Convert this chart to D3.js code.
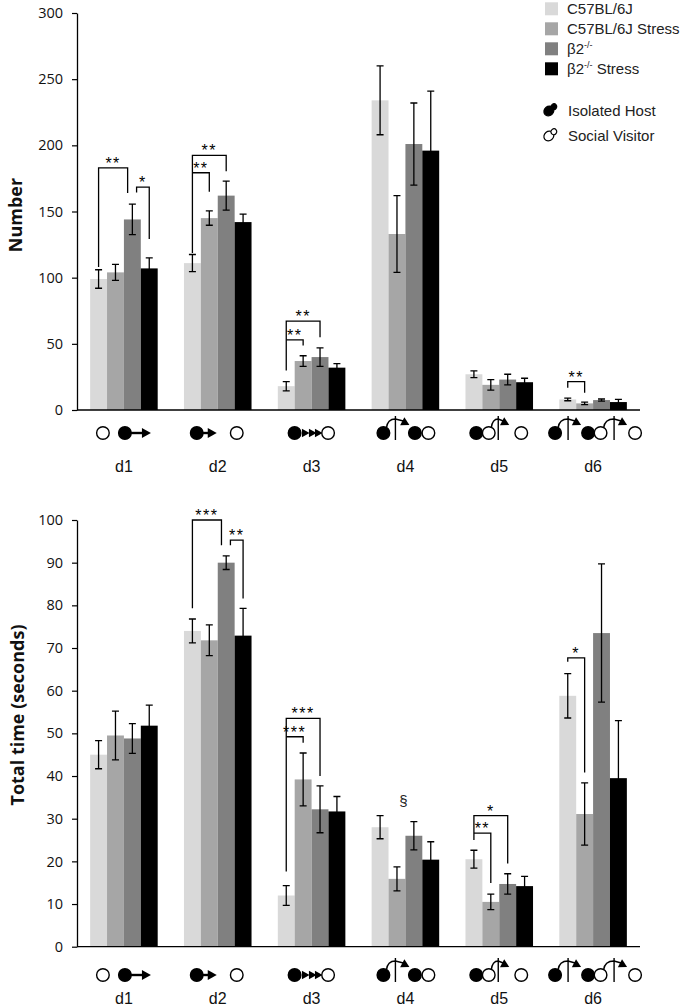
<!DOCTYPE html>
<html><head><meta charset="utf-8">
<script src="https://cdn.jsdelivr.net/npm/d3@7"></script>
<style>body{margin:0;background:#fff} svg{display:block}</style>
</head><body>
<svg id="c" width="680" height="1008"></svg>
<script>
// ---------- data ----------
const groups = ["d1","d2","d3","d4","d5","d6"];
const series = ["C57BL/6J","C57BL/6J Stress","β2-/-","β2-/- Stress"];
const colors = ["#d9d9d9","#a6a6a6","#808080","#000000"];

const countTicks = [0,50,100,150,200,250,300];
const countC57     = [99, 111, 18, 234, 27, 8];
const countC57Err  = [7, 6.5, 3.5, 26, 2.5, 1];
const countC57S    = [104, 145, 37, 133, 19, 5];
const countC57SErr = [6, 5.4, 4, 29, 4, 1];
const countB2      = [144, 162, 40, 201, 23, 7.5];
const countB2Err   = [11.5, 11, 7, 31, 4, 0.8];
const countB2S     = [107, 142, 32, 196, 21, 6];
const countB2SErr  = [8, 6, 3, 45, 3, 2];

const timeTicks = [0,10,20,30,40,50,60,70,80,90,100];
const timeC57     = [45, 74, 12, 28, 20.5, 58.8];
const timeC57Err  = [3.3, 2.8, 2.3, 2.7, 2.1, 5.2];
const timeC57S    = [49.5, 71.8, 39.2, 15.9, 10.5, 31.1];
const timeC57SErr = [5.7, 3.6, 6.2, 2.8, 1.8, 7.3];
const timeB2      = [48.8, 90, 32.2, 26, 14.7, 73.5];
const timeB2Err   = [3.5, 1.6, 5.5, 3.3, 2.4, 16.2];
const timeB2S     = [51.8, 72.9, 31.7, 20.4, 14.2, 39.5];
const timeB2SErr  = [4.8, 6.4, 3.5, 4.2, 2.3, 13.5];

// significance brackets: [group, fromSeries, toSeries, top, leftEnd, rightEnd, label]
const countSig = [
  ["d1",0,2,183,108,164,"**"],
  ["d1",2,3,168.4,164.4,129.3,"*"],
  ["d2",0,2,192.4,118.7,180.5,"**"],
  ["d2",0,1,179.3,179.3,164.9,"**"],
  ["d3",0,2,67.2,29.8,55,"**"],
  ["d3",0,1,53,53,48.7,"**"],
  ["d6",0,1,21.4,16.9,13.1,"**"]
];
const timeSig = [
  ["d2",0,2,100,79.3,94.1,"***"],
  ["d2",2,3,95.3,94.1,81.6,"**"],
  ["d3",0,2,53.5,17.6,40,"***"],
  ["d3",0,1,49.2,49.2,47.8,"***"],
  ["d5",0,2,30.7,25,19.5,"*"],
  ["d5",0,1,26.6,26.6,14.9,"**"],
  ["d6",0,1,67.7,66.8,40.8,"*"]
];
const timeNotes = [["d4", 33, "§"]];

// ---------- drawing ----------
const svg = d3.select("#c");
const x = d3.scaleBand().domain(groups).range([77,640]).paddingInner(0.28).paddingOuter(0.14);
const xs = d3.scaleBand().domain(series).range([0, x.bandwidth()]);
const bw = xs.bandwidth();
const barC = (g, si) => x(g) + xs(series[si]) + bw/2;
const tickFont = "'Open Sans', sans-serif";
const arial = "'Liberation Sans', Arial, sans-serif";

function panel(cfg){
  const y = d3.scaleLinear().domain([0, cfg.max]).range([cfg.y0, cfg.y1]);
  const g = svg.append("g");
  cfg.means.forEach((arr, si) => {
    const rows = arr.map((v,i)=>({g:groups[i], v, e:cfg.errs[si][i]}));
    g.append("g").selectAll("rect").data(rows).join("rect")
      .attr("x", d=>x(d.g)+xs(series[si])).attr("width", bw)
      .attr("y", d=>y(d.v)).attr("height", d=>y(0)-y(d.v))
      .attr("fill", colors[si]);
    const eb = g.append("g").attr("stroke","#000").attr("stroke-width",1.3).attr("fill","none");
    eb.selectAll("path").data(rows).join("path")
      .attr("d", d=>{
        const cx = barC(d.g, si), t = y(d.v+d.e), b = y(d.v-d.e);
        return `M${cx},${t}V${b}M${cx-3.5},${t}H${cx+3.5}M${cx-3.5},${b}H${cx+3.5}`;
      });
  });
  // y axis
  const ax = g.append("g").attr("transform","translate(77,0)")
    .call(d3.axisLeft(y).tickValues(cfg.ticks).tickSize(5).tickSizeOuter(0).tickPadding(9));
  ax.select(".domain").attr("stroke","#000").attr("stroke-width",1.3);
  ax.selectAll(".tick line").attr("stroke","#000").attr("stroke-width",1.2);
  ax.selectAll(".tick text").attr("font-family",tickFont).attr("font-size",14.5).attr("fill","#111");
  // x axis baseline
  g.append("line").attr("x1",77).attr("x2",640).attr("y1",y(0)).attr("y2",y(0))
    .attr("stroke","#000").attr("stroke-width",1.3);
  // y label
  g.append("text").attr("transform",`translate(${cfg.labelX},${cfg.labelY}) rotate(-90)`)
    .attr("text-anchor","middle").attr("font-family",tickFont).attr("font-weight","bold")
    .attr("font-size",18).attr("fill","#111").text(cfg.label);
  // brackets
  const br = g.append("g");
  cfg.sig.forEach(([grp,a,b,top,le,re,lab]) => {
    let xa = barC(grp,a), xb = barC(grp,b);
    const shared = cfg.sig.filter(s=>s[0]===grp);
    if (shared.some(s=>s[1]===b && s[2]>b)) xb -= bw*0.28;
    if (shared.some(s=>s[2]===a && s[1]<a)) xa += bw*0.25;
    br.append("path").attr("d",`M${xa},${y(le)}V${y(top)}H${xb}V${y(re)}`)
      .attr("fill","none").attr("stroke","#000").attr("stroke-width",1.3);
    br.append("text").attr("x",(xa+xb)/2).attr("y",y(top)+1).attr("text-anchor","middle")
      .attr("font-family",arial).attr("font-size",16).attr("letter-spacing",1.5).attr("fill","#000").text(lab);
  });
  (cfg.notes||[]).forEach(([grp,v,lab])=>{
    br.append("text").attr("x",x(grp)+x.bandwidth()/2-2).attr("y",y(v)).attr("text-anchor","middle")
      .attr("font-family",arial).attr("font-size",15).attr("fill","#222").text(lab);
  });
  drawIcons(cfg.iconY);
  g.selectAll(".dl").data(groups).join("text").attr("class","dl")
    .attr("x",d=>x(d)+x.bandwidth()/2).attr("y",cfg.dlabY).attr("text-anchor","middle")
    .attr("font-family",arial).attr("font-size",16).attr("fill","#111").text(d=>d);
}

// icon helpers
function drawIcons(cy){
  const ig = svg.append("g").attr("stroke","#000").attr("stroke-width",1.4);
  const R = 6.3;
  const circ = (cx,filled)=>ig.append("circle").attr("cx",cx).attr("cy",cy).attr("r",R)
    .attr("fill",filled?"#000":"#fff");
  const head = (tx,ty,ang,s=1)=>{
    ig.append("path").attr("d",`M0,0L${-9*s},${-5*s}L${-9*s},${5*s}Z`).attr("fill","#000").attr("stroke","none")
      .attr("transform",`translate(${tx},${ty}) rotate(${ang})`);
  };
  const arrow = (x1,x2)=>{
    ig.append("line").attr("x1",x1).attr("x2",x2-7).attr("y1",cy).attr("y2",cy).attr("stroke-width",2.4);
    head(x2,cy,0);
  };
  const jump = (sx,lx,tx)=>{
    ig.append("line").attr("x1",lx).attr("x2",lx).attr("y1",cy-17).attr("y2",cy+7);
    ig.append("path").attr("fill","none")
      .attr("d",`M${sx},${cy-5}Q${sx+1},${cy-14} ${lx},${cy-14}L${tx-6},${cy-12}`);
    head(tx,cy-8,28,0.9);
  };
  const c = g => x(g)+x.bandwidth()/2;
  let k = c("d1"); circ(k-21,false); circ(k+1,true); arrow(k+5,k+27);
  k = c("d2"); circ(k-21,true); arrow(k-17,k-1); circ(k+19,false);
  k = c("d3"); circ(k-17,true); head(k-2,cy,0,0.85); head(k+5,cy,0,0.85); head(k+11,cy,0,0.85); circ(k+16.5,false);
  k = c("d4"); circ(k-22,true); jump(k-19,k-10,k+4); circ(k+9.5,true); circ(k+23,false);
  k = c("d5"); circ(k-23,true); circ(k-10.5,false); jump(k-8,k-1,k+10); circ(k+22,false);
  k = c("d6"); circ(k-38,true); jump(k-35,k-25,k-12); circ(k-5,true); circ(k+7.5,false);
  jump(k+10.5,k+21,k+34); circ(k+42,false);
}

panel({max:300, y0:410, y1:13, ticks:countTicks,
  means:[countC57,countC57S,countB2,countB2S], errs:[countC57Err,countC57SErr,countB2Err,countB2SErr],
  label:"Number", labelX:22, labelY:215, sig:countSig, iconY:433, dlabY:472});
panel({max:100, y0:946.7, y1:520, ticks:timeTicks,
  means:[timeC57,timeC57S,timeB2,timeB2S], errs:[timeC57Err,timeC57SErr,timeB2Err,timeB2SErr],
  label:"Total time (seconds)", labelX:24, labelY:715, sig:timeSig, notes:timeNotes, iconY:975, dlabY:1004});

// legend
const lg = svg.append("g").attr("font-family",arial).attr("font-size",15).attr("fill","#222");
series.forEach((s,i)=>{
  const cy = 8.8 + i*20;
  lg.append("rect").attr("x",545).attr("y",cy-6.5).attr("width",13).attr("height",13).attr("fill",colors[i]);
  const t = lg.append("text").attr("x",567).attr("y",cy+5.5);
  if (s.startsWith("β2")) {
    t.append("tspan").text("β2");
    t.append("tspan").attr("font-size",9).attr("dy",-6).text("-/-");
    if (s.endsWith("Stress")) t.append("tspan").attr("dy",6).text(" Stress");
  } else t.text(s);
});
function mouse(cx,cy,filled){
  const m = lg.append("g").attr("transform",`translate(${cx},${cy}) rotate(-40)`)
    .attr("fill",filled?"#000":"#fff").attr("stroke","#000").attr("stroke-width",1.2);
  m.append("ellipse").attr("cx",-1.5).attr("cy",0).attr("rx",5.2).attr("ry",4.6);
  m.append("ellipse").attr("cx",5).attr("cy",0).attr("rx",3).attr("ry",2.8);
}
mouse(550,110,true);
lg.append("text").attr("x",568).attr("y",115.5).text("Isolated Host");
mouse(550,135,false);
lg.append("text").attr("x",568).attr("y",140.5).text("Social Visitor");
</script>
</body></html>
